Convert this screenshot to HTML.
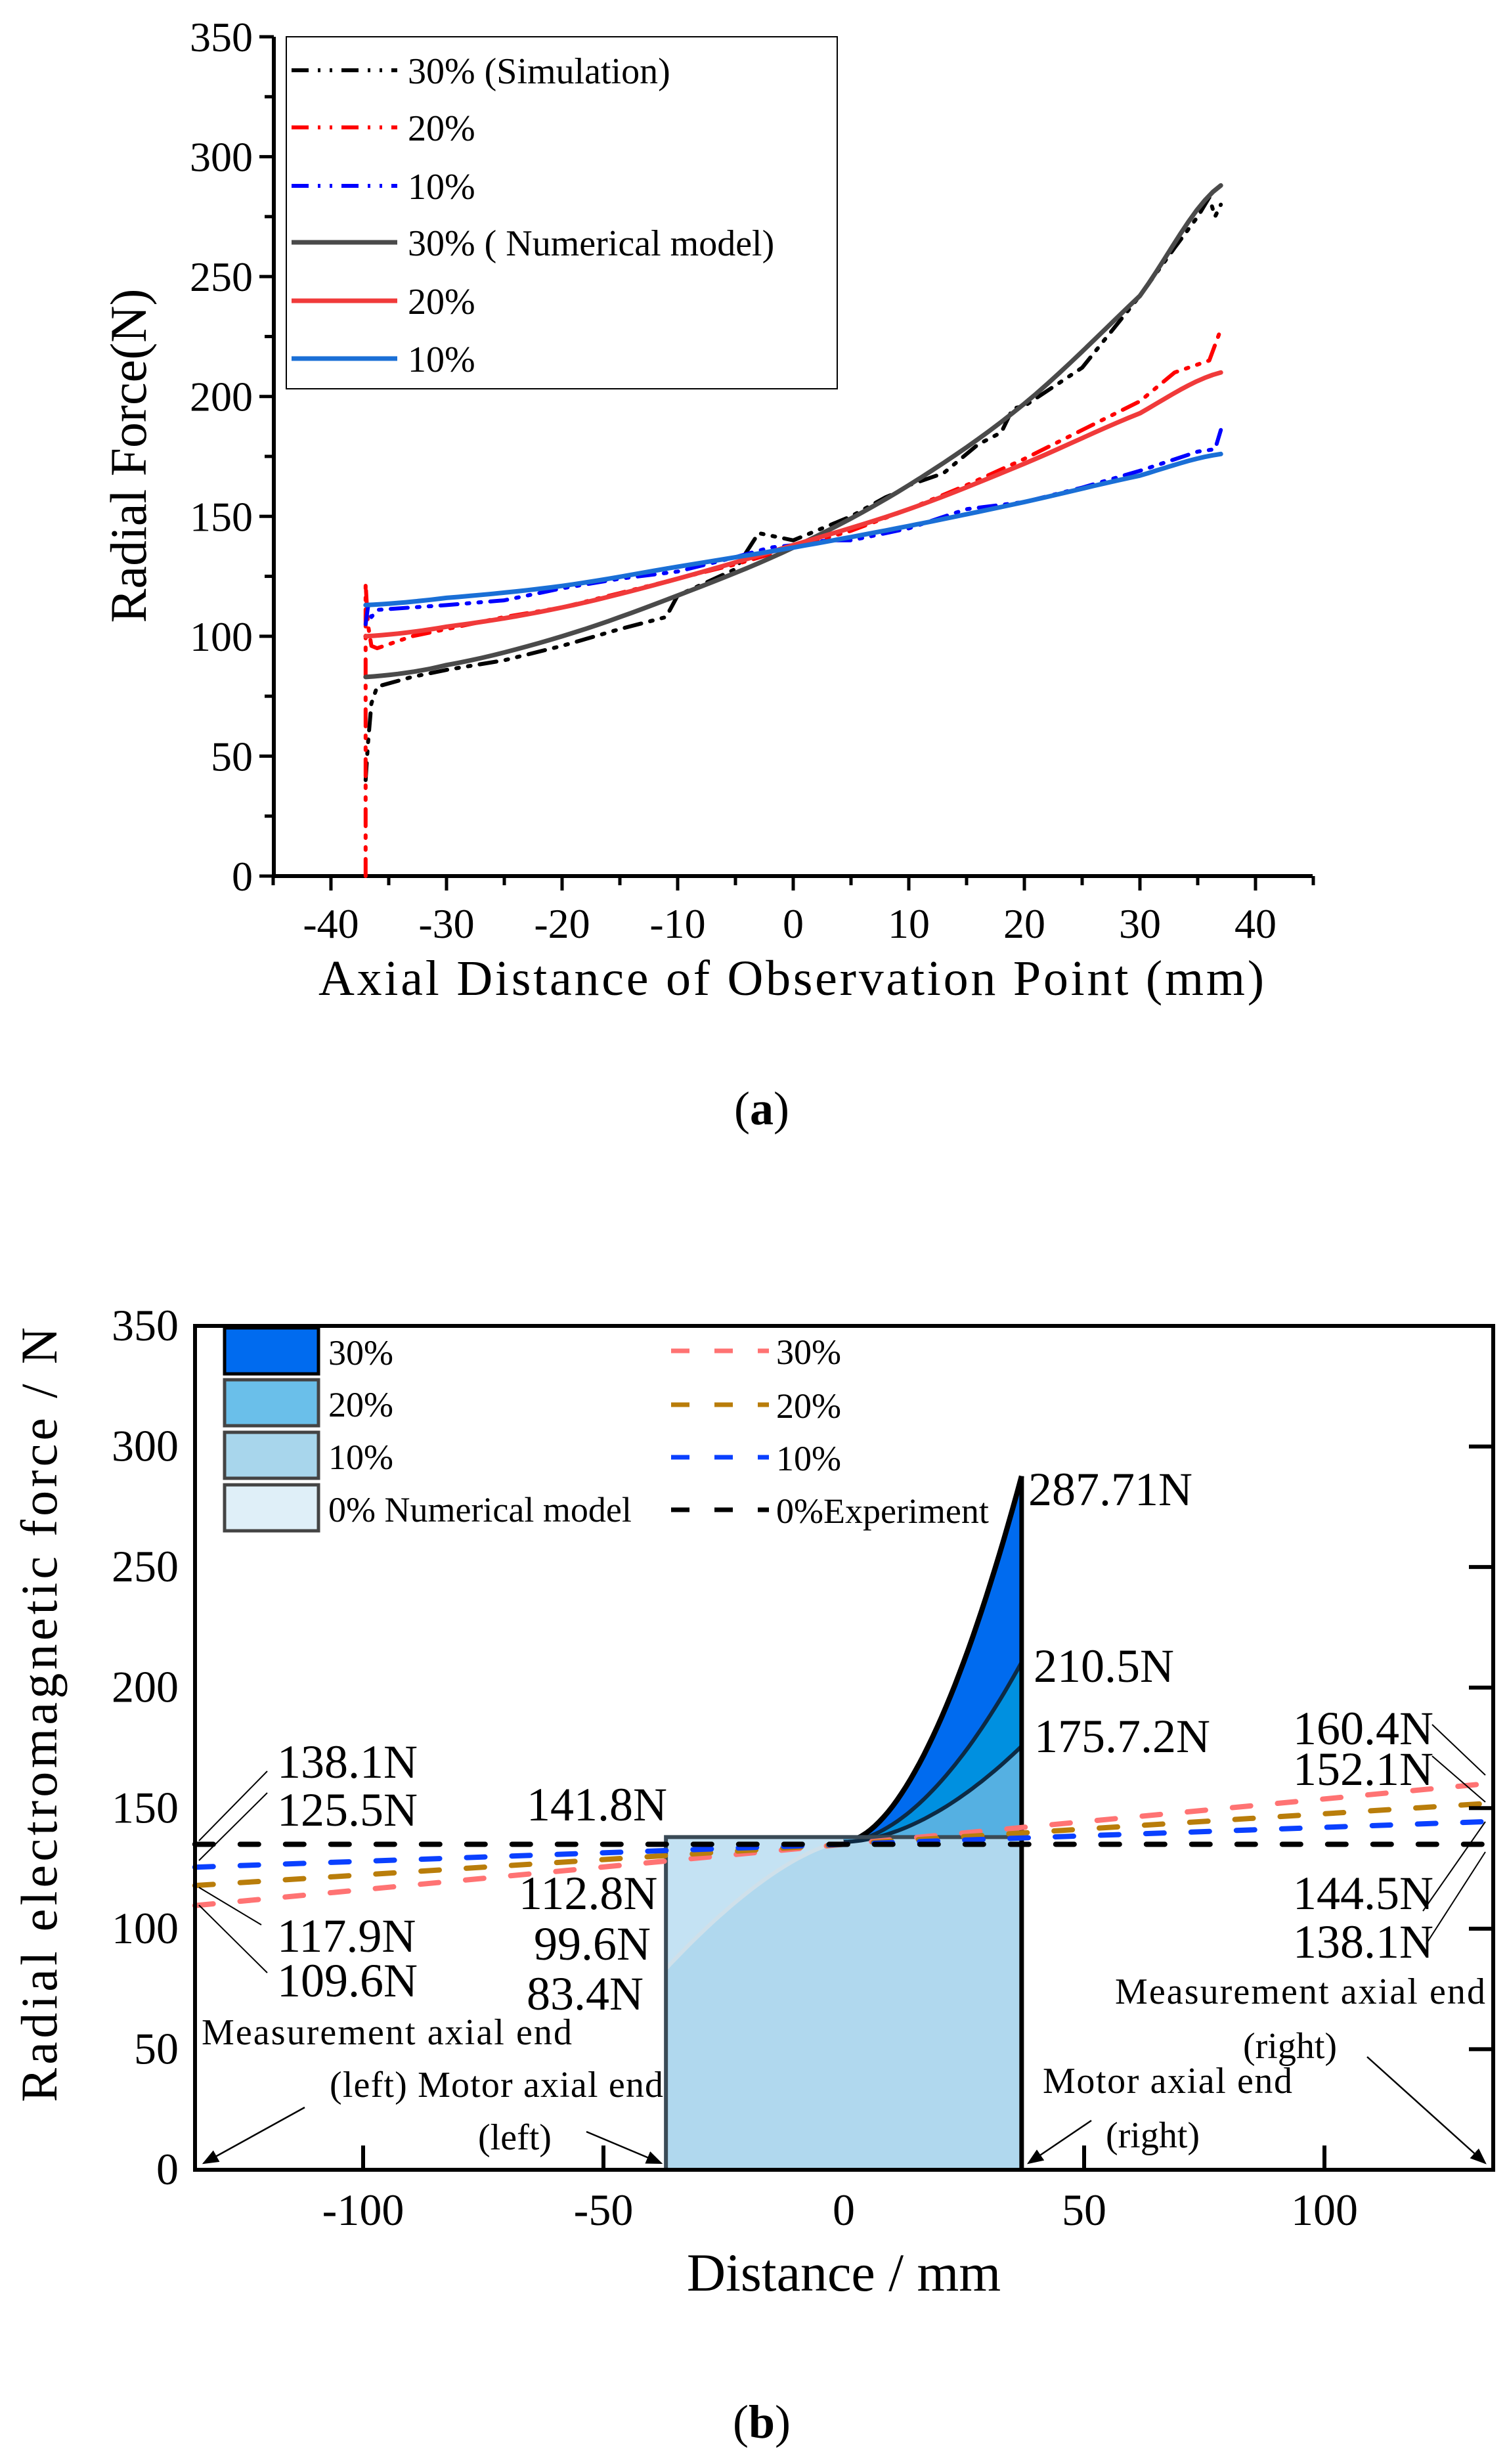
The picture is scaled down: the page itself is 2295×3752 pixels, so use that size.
<!DOCTYPE html>
<html><head><meta charset="utf-8"><style>
html,body{margin:0;padding:0;background:#fff}
svg{display:block}
text{font-family:"Liberation Serif",serif;fill:#000}
</style></head><body>
<svg id="svg" width="2295" height="3752" viewBox="0 0 2295 3752" xmlns="http://www.w3.org/2000/svg">
<g id="ga"></g>
<g id="gb"></g>
<text x="1160" y="1712" font-size="72" text-anchor="middle">(<tspan font-weight="bold">a</tspan>)</text>
<text x="1160" y="3712" font-size="72" text-anchor="middle">(<tspan font-weight="bold">b</tspan>)</text>
</svg>
<script>
// ---------- Chart (a) data ----------
const aXTicks = [-40,-30,-20,-10,0,10,20,30,40];
const aYTicks = [0,50,100,150,200,250,300,350];
const aModelX = [-37,-30,-20,-10,0,10,20,30,37];
const aModel30 = [83,88,100,117,137,163,197,242,288];
const aModel20 = [100,104,112,124,138,153,172,193,210];
const aModel10 = [113,116,121,129,137,146,156,167,176];
const aSim30X = [-37,-36.8,-36.5,-36,-33,-30,-25,-20,-15,-11,-10,-5,-3,-1,0,3,5,8,9,10,13,16,18,19,20,25,30,33,35,36,36.5,37];
const aSim30 = [40,55,72,79,83,86,90,96,103,108,117,128,143,141,140,146,150,158,160,163,168,180,185,195,196,212,242,262,275,283,275,280];
const aSim20X = [-37,-37,-36.8,-36.5,-36,-33,-30,-25,-20,-15,-10,-5,0,5,10,15,20,25,30,33,36,37];
const aSim20 = [0,122,105,96,95,100,103,108,112,118,124,130,137,144,153,163,174,186,198,210,215,228];
const aSim10X = [-37,-36.8,-36.5,-36,-33,-30,-25,-20,-15,-10,-5,-2,0,3,5,7,10,15,20,25,30,35,36.5,37];
const aSim10 = [105,112,108,111,112,113,115,120,124,127,133,137,138,140,140,142,145,153,156,162,169,177,178,186];

// ---------- Chart (b) data ----------
const bXTicks = [-100,-50,0,50,100];
const bYTicks = [0,50,100,150,200,250,300,350];
const bRectTop = 138;
const bCurveEnds = [287.71,210.5,175.7];
const bLeftEnds = [112.8,99.6,83.4];
const bDashLeft = [109.6,117.9,125.5,135];
const bDashRight = [160.4,152.1,144.5,135];

const NS="http://www.w3.org/2000/svg";
function mk(parent,tag,attrs){const e=document.createElementNS(NS,tag);for(const k in attrs)e.setAttribute(k,attrs[k]);parent.appendChild(e);return e;}
function txt(parent,x,y,s,size,anchor){const t=mk(parent,'text',{x:x,y:y,'font-size':size,'text-anchor':anchor||'start'});t.textContent=s;return t;}

// ===== Chart A =====
const ga=document.getElementById('ga');
const ax=v=>1208+v*17.6, ay=v=>1334-v*(1278/350);
function pathA(xs,ys){return xs.map((x,i)=>(i?'L':'M')+ax(x).toFixed(1)+','+ay(ys[i]).toFixed(1)).join(' ');}
function smoothA(xs,ys){let pts=[];for(let i=0;i<xs.length-1;i++){const x0=xs[i],x1=xs[i+1];const ym=i>0?ys[i-1]:ys[i],y0=ys[i],y1=ys[i+1],yp=i+2<ys.length?ys[i+2]:ys[i+1];for(let k=0;k<10;k++){const t=k/10;const y=0.5*((2*y0)+(-ym+y1)*t+(2*ym-5*y0+4*y1-yp)*t*t+(-ym+3*y0-3*y1+yp)*t*t*t);pts.push([ax(x0+(x1-x0)*t),ay(y)]);}}pts.push([ax(xs[xs.length-1]),ay(ys[ys.length-1])]);return 'M'+pts.map(p=>p[0].toFixed(1)+','+p[1].toFixed(1)).join(' L');}
let e=mk(ga,'line',{x1:417,y1:56,x2:417,y2:1337,stroke:'#000','stroke-width':6});


e=mk(ga,'line',{x1:414,y1:1334,x2:1999,y2:1334,stroke:'#000','stroke-width':6});


for(let v=-45;v<=45;v+=5){const major=v%10===0;const t=mk(ga,'line',{x1:ax(v),y1:1334,x2:ax(v),y2:1334+(major?22:14),stroke:'#000','stroke-width':5});

}
for(let v=0;v<=350;v+=25){const major=v%50===0;const t=mk(ga,'line',{x1:417,y1:ay(v),x2:417-(major?22:14),y2:ay(v),stroke:'#000','stroke-width':5});

}
aXTicks.forEach(v=>{const t=txt(ga,ax(v),1428,String(v),64,'middle');

});
aYTicks.forEach(v=>{const t=txt(ga,385,ay(v)+22,String(v),64,'end');

});
e=txt(ga,1205,1515,'Axial Distance of Observation Point (mm)',76,'middle');
e.setAttribute('textLength','1440');


e=txt(ga,0,0,'Radial Force(N)',78,'middle');
e.setAttribute('transform','translate(222,694) rotate(-90)');


const dd='26 14 4 14 4 14';
const series=[
 [aSim30X,aSim30,'#000',dd,'sim-30-line'],
 [aSim20X,aSim20,'#ff0000',dd,'sim-20-line'],
 [aSim10X,aSim10,'#0000ff',dd,'sim-10-line'],
 [aModelX,aModel30,'#4a4a4a',null,'model-30-line'],
 [aModelX,aModel20,'#f03a3a',null,'model-20-line'],
 [aModelX,aModel10,'#1a6fd6',null,'model-10-line']];
series.forEach(s=>{const p=mk(ga,'path',{d:s[3]?pathA(s[0],s[1]):smoothA(s[0],s[1]),fill:'none',stroke:s[2],'stroke-width':s[3]?6:7,'stroke-linejoin':'round','stroke-linecap':'round'});
if(s[3])p.setAttribute('stroke-dasharray',s[3]);

});
e=mk(ga,'rect',{x:436,y:56,width:839,height:536,fill:'#fff',stroke:'#000','stroke-width':2});


const legA=[['30% (Simulation)','#000',dd],['20%','#ff0000',dd],['10%','#0000ff',dd],['30% ( Numerical model)','#4a4a4a',null],['20%','#f03a3a',null],['10%','#1a6fd6',null]];
const legY=[107,194,283,369,458,546];
legA.forEach((l,i)=>{const g=mk(ga,'g',{});


const ln=mk(g,'line',{x1:444,y1:legY[i],x2:605,y2:legY[i],stroke:l[1],'stroke-width':l[2]?6:7});
if(l[2])ln.setAttribute('stroke-dasharray',l[2]);
txt(g,621,legY[i]+20,l[0],56,'start');});

// ===== Chart B =====
const gb=document.getElementById('gb');
const bx=v=>1285+v*7.32, by=v=>3304-v*(1285/350);
const L=-135,R=135,X1=-37,X2=37;
e=mk(gb,'rect',{x:bx(X1),y:by(bRectTop),width:bx(X2)-bx(X1),height:by(0)-by(bRectTop),fill:'#b0d8ee'});


function curve(x0,x1,y0,y1,p){let pts=[];for(let i=0;i<=40;i++){const t=i/40;const x=x0+(x1-x0)*t;const y=y0+(y1-y0)*Math.pow(t,p);pts.push([bx(x),by(y)]);}return pts;}
const fadeCols=['#e6f2fa','#d4eaf6','#c4e2f3'];
bLeftEnds.forEach((v,i)=>{const pts=curve(0,X1,136,v,1.5);
const d='M'+bx(0)+','+by(bRectTop)+' '+pts.map(p=>'L'+p[0].toFixed(1)+','+p[1].toFixed(1)).join(' ')+' L'+bx(X1)+','+by(bRectTop)+'Z';
const a=mk(gb,'path',{d:d,fill:fadeCols[i]});


const c=mk(gb,'path',{d:'M'+pts.map(p=>p[0].toFixed(1)+','+p[1].toFixed(1)).join(' L'),fill:'none',stroke:['#a8b8c4','#c0d4e0','#cfe0ea'][i],'stroke-width':6});

});
const areaCols=['#006bef','#0090e0','#55b0e2'];
bCurveEnds.forEach((v,i)=>{const pts=curve(0,X2,136,v,1.8);
const d='M'+bx(0)+','+by(136)+' '+pts.map(p=>'L'+p[0].toFixed(1)+','+p[1].toFixed(1)).join(' ')+' L'+bx(X2)+','+by(bRectTop)+' L'+bx(0)+','+by(bRectTop)+'Z';
const a=mk(gb,'path',{d:d,fill:areaCols[i]});


const c=mk(gb,'path',{d:'M'+pts.map(p=>p[0].toFixed(1)+','+p[1].toFixed(1)).join(' L'),fill:'none',stroke:i===0?'#000':'#0d2a44','stroke-width':i===0?8:6});

});
e=mk(gb,'path',{d:'M'+bx(X1)+','+by(0)+' L'+bx(X1)+','+by(bRectTop)+' L'+bx(X2)+','+by(bRectTop),fill:'none',stroke:'#3a4a56','stroke-width':6});


e=mk(gb,'line',{x1:bx(X2),y1:by(0),x2:bx(X2),y2:by(bCurveEnds[0]),stroke:'#000','stroke-width':7});


const dashCols=['#ff7373','#b97d0a','#0a40ff','#000'];
bDashLeft.forEach((v,i)=>{const l=mk(gb,'line',{x1:bx(L),y1:by(v),x2:bx(R),y2:by(bDashRight[i]),stroke:dashCols[i],'stroke-width':8,'stroke-dasharray':'28 41','stroke-linecap':'round'});

});
e=mk(gb,'rect',{x:297,y:2019,width:1977,height:1285,fill:'none',stroke:'#000','stroke-width':6});


bXTicks.forEach(v=>{if(v!==0){const t=mk(gb,'line',{x1:bx(v),y1:3304,x2:bx(v),y2:3267,stroke:'#000','stroke-width':6});

}
const l=txt(gb,bx(v),3388,String(v),68,'middle');

});
bYTicks.forEach(v=>{if(v>0&&v<350){const t=mk(gb,'line',{x1:2274,y1:by(v),x2:2237,y2:by(v),stroke:'#000','stroke-width':6});

}
const l=txt(gb,272,by(v)+22,String(v),68,'end');

});
e=txt(gb,1285,3488,'Distance / mm',82,'middle');


e=txt(gb,0,0,'Radial electromagnetic force / N',78,'middle');
e.setAttribute('transform','translate(86,2611) rotate(-90)');
e.setAttribute('textLength','1180');


const swCols=['#006bef','#6abfea','#a8d6ec','#dfeff8'];
const swLab=['30%','20%','10%','0% Numerical model'];
const swY=[2022,2101,2181,2261];
swLab.forEach((s,i)=>{const g=mk(gb,'g',{});


mk(g,'rect',{x:342,y:swY[i],width:143,height:70,fill:swCols[i],stroke:i===0?'#000':'#444','stroke-width':5});
txt(g,500,swY[i]+56,s,54,'start');});
const dLab=['30%','20%','10%','0%Experiment'];
const dY=[2057,2139,2219,2299];
dLab.forEach((s,i)=>{const g=mk(gb,'g',{});


mk(g,'line',{x1:1022,y1:dY[i],x2:1171,y2:dY[i],stroke:dashCols[i],'stroke-width':7,'stroke-dasharray':'28 38'});
txt(g,1182,dY[i]+20,s,54,'start');});
const ann=[['287.71N',1566,2292,72],['210.5N',1574,2561,72],['175.7.2N',1575,2668,72],['160.4N',1969,2656,72],['152.1N',1969,2718,72],['144.5N',1969,2907,72],['138.1N',1969,2981,72],
['138.1N',422,2707,72],['125.5N',422,2780,72],['141.8N',802,2772,72],['112.8N',790,2907,72],['99.6N',813,2984,72],['83.4N',802,3060,72],['117.9N',422,2972,72],['109.6N',422,3040,72]];
ann.forEach(a=>{const t=txt(gb,a[1],a[2],a[0],a[3],'start');

});
const notes=[['Measurement axial end',307,3113,564],['(left) Motor axial end',502,3193,508],['(left)',728,3273,0],['Measurement axial end',1698,3051,564],['(right)',1893,3134,0],['Motor axial end',1588,3187,380],['(right)',1684,3270,0]];
notes.forEach(n=>{const t=txt(gb,n[1],n[2],n[0],56,'start');
if(n[3])t.setAttribute('textLength',n[3]);

});
const leaders=[[303,2803,407,2697],[303,2833,407,2730],[303,2874,398,2931],[303,2901,407,3004],[2181,2626,2262,2703],[2181,2674,2262,2744],[2167,2910,2262,2774],[2172,2960,2262,2820]];
leaders.forEach(l=>{const t=mk(gb,'line',{x1:l[0],y1:l[1],x2:l[2],y2:l[3],stroke:'#000','stroke-width':2});

});
mk(gb,'defs',{}).innerHTML='<marker id="ah" markerWidth="10" markerHeight="8" refX="9" refY="4" orient="auto" markerUnits="strokeWidth"><path d="M0,0 L10,4 L0,8 Z" fill="#000"/></marker>';
const arrows=[[464,3209,310,3294],[893,3246,1007,3294],[1662,3229,1566,3294],[2082,3132,2262,3294]];
arrows.forEach(a=>{const t=mk(gb,'line',{x1:a[0],y1:a[1],x2:a[2],y2:a[3],stroke:'#000','stroke-width':2.5,'marker-end':'url(#ah)'});

});
</script>
</body></html>
